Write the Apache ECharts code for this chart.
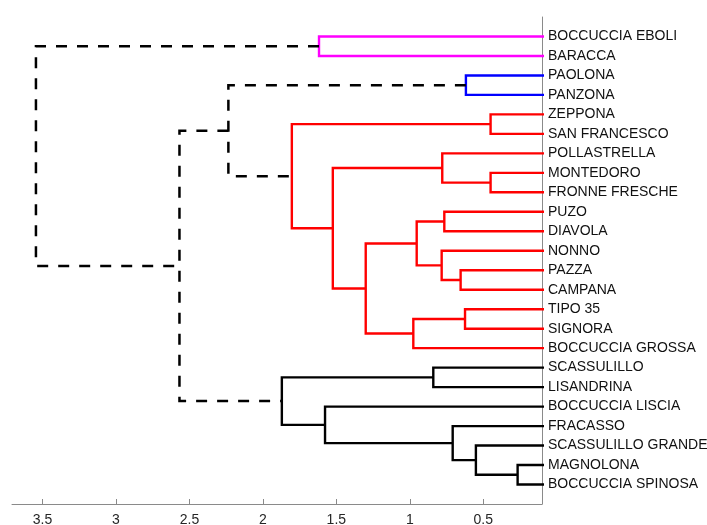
<!DOCTYPE html>
<html>
<head>
<meta charset="utf-8">
<script src="https://cdn.jsdelivr.net/npm/echarts@6/dist/echarts.min.js"></script>
<style>html,body{margin:0;padding:0;background:#fff}#c{width:707px;height:525px}</style>
</head>
<body>
<div id="c"></div>
<script>
// Leaves, top to bottom
const leaves = ['BOCCUCCIA EBOLI','BARACCA','PAOLONA','PANZONA','ZEPPONA','SAN FRANCESCO','POLLASTRELLA','MONTEDORO','FRONNE FRESCHE','PUZO','DIAVOLA','NONNO','PAZZA','CAMPANA','TIPO 35','SIGNORA','BOCCUCCIA GROSSA','SCASSULILLO','LISANDRINA','BOCCUCCIA LISCIA','FRACASSO','SCASSULILLO GRANDE','MAGNOLONA','BOCCUCCIA SPINOSA'];
// Merges: node ids 0..23 are leaves, 24+ are merges in this order
const mergeA = [22, 4, 7, 21, 2, 14, 12, 20, 9, 6, 11, 17, 32, 29, 36, 33, 19, 0, 25, 35, 28, 44, 41];
const mergeB = [23, 5, 8, 24, 3, 15, 13, 27, 10, 26, 30, 18, 34, 16, 37, 38, 31, 1, 39, 40, 42, 43, 45];
const mergeHeight = [0.266, 0.450, 0.450, 0.550, 0.618, 0.624, 0.654, 0.708, 0.765, 0.779, 0.783, 0.840, 0.953, 0.976, 1.300, 1.524, 1.577, 1.618, 1.803, 1.871, 2.235, 2.568, 3.545];
const mergeGroup = ['k','r','r','k','b','r','r','k','r','r','r','k','r','r','r','r','k','m','r','k','d','d','d'];
const tickValues = [0.5, 1, 1.5, 2, 2.5, 3, 3.5];

const groupColor = {k:'#000000', r:'#ff0000', b:'#0000ff', m:'#ff00ff', d:'#000000'};

const nL = leaves.length;
const nodeY = leaves.map((_, i) => i + 1);
const nodeH = leaves.map(() => 0);
const series = [];
for (let k = 0; k < mergeA.length; k++) {
  const a = mergeA[k], b = mergeB[k], h = mergeHeight[k];
  const ya = nodeY[a], yb = nodeY[b];
  nodeY.push((ya + yb) / 2);
  nodeH.push(h);
  const g = mergeGroup[k];
  series.push({
    type: 'line',
    silent: true,
    symbol: 'none',
    animation: false,
    clip: true,
    data: [[nodeH[a], ya], [h, ya], [h, yb], [nodeH[b], yb]],
    lineStyle: {
      color: groupColor[g],
      width: g === 'd' ? 2.5 : 2.4,
      type: g === 'd' ? [11, 10] : 'solid',
      cap: 'butt',
      join: 'miter'
    }
  });
}

const chart = echarts.init(document.getElementById('c'), null, {renderer: 'canvas'});
chart.setOption({
  animation: false,
  backgroundColor: '#ffffff',
  grid: {left: 12, right: 165, top: 17, bottom: 21, containLabel: false, outerBoundsMode: 'none'},
  xAxis: {
    type: 'value',
    inverse: true,
    position: 'bottom',
    min: 0.1,
    max: 3.708,
    splitLine: {show: false},
    axisLine: {show: true, onZero: false, lineStyle: {color: '#8a8a8a', width: 1}},
    axisTick: {show: true, inside: true, length: 5, customValues: tickValues, lineStyle: {color: '#8a8a8a'}},
    axisLabel: {
      customValues: tickValues,
      color: '#262626',
      fontSize: 14,
      fontFamily: 'Liberation Sans, Arial, sans-serif',
      margin: 9,
      formatter: v => String(v)
    }
  },
  yAxis: {
    type: 'value',
    inverse: true,
    position: 'right',
    min: 0,
    max: 25,
    splitLine: {show: false},
    axisLine: {show: true, onZero: false, lineStyle: {color: '#8a8a8a', width: 1}},
    axisTick: {show: false},
    axisLabel: {
      customValues: nodeY.slice(0, nL),
      color: '#111111',
      fontSize: 14,
      fontFamily: 'Liberation Sans, Arial, sans-serif',
      margin: 6,
      formatter: v => leaves[Math.round(v) - 1] || ''
    }
  },
  series: series
});
</script>
</body>
</html>
